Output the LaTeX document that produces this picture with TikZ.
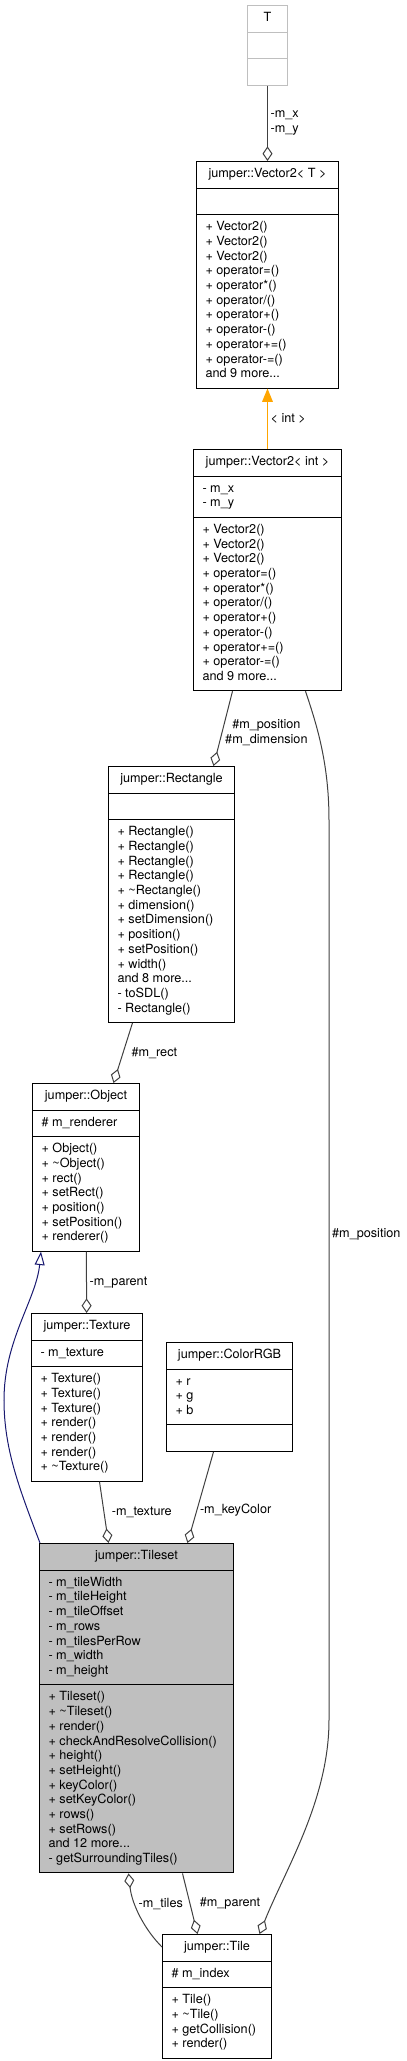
\documentclass[tikz,border=0pt]{standalone}
\usepackage{fontspec}
\setmainfont{TeX Gyre Heros}
\usepackage{tikz}
\usetikzlibrary{shapes.multipart,arrows.meta,positioning,calc}
\definecolor{edgegray}{HTML}{404040}
\definecolor{boxgray}{HTML}{BFBFBF}
\definecolor{tmplorange}{HTML}{FFA500}
\definecolor{inhblue}{HTML}{191970}
\newcommand{\cfont}{\fontsize{9.5}{11.025}\selectfont}

\begin{document}
\begin{tikzpicture}[
    x=0.75pt, y=-0.75pt,
    cls/.style={rectangle split, rectangle split parts=3, draw=black, line width=0.75pt,
        anchor=north west, align=left, font=\cfont, inner xsep=6.75pt, inner ysep=4.05pt,
        rectangle split part align={center,left,left}},
    tmplbox/.style={cls, draw=boxgray},
    curclass/.style={cls, fill=boxgray},
    lbl/.style={font=\cfont, align=left, inner sep=2pt},
    aggr/.style={draw=edgegray, line width=0.75pt, -{Diamond[open, length=11pt, width=7.5pt]}},
    tmpl/.style={draw=tmplorange, line width=0.75pt, -{Triangle[length=10pt, width=8pt]}},
    inherit/.style={draw=inhblue, line width=0.75pt, -{Triangle[open, length=10pt, width=7.5pt]}}
]
    \useasboundingbox (0,0) rectangle (407,2061);

    % Nodes
    \node[tmplbox, minimum width=30pt] (tpar) at (247,5) {\strut T\nodepart{two}\strut\nodepart{three}\strut};

    \node[cls, minimum width=106.5pt] (vect) at (196,161) {\strut jumper::Vector2< T >
        \nodepart{two}\strut
        \nodepart{three}\strut + Vector2()\\+ Vector2()\\+ Vector2()\\+ operator=()\\+ operator*()\\+ operator/()\\
        + operator+()\\+ operator-()\\+ operator+=()\\+ operator-=()\\and 9 more...\strut};

    \node[cls, minimum width=111pt] (vecint) at (193,449) {\strut jumper::Vector2< int >
        \nodepart{two}\strut - m\_x\\- m\_y\strut
        \nodepart{three}\strut + Vector2()\\+ Vector2()\\+ Vector2()\\+ operator=()\\+ operator*()\\+ operator/()\\
        + operator+()\\+ operator-()\\+ operator+=()\\+ operator-=()\\and 9 more...\strut};

    \node[cls, minimum width=94.5pt] (rect) at (108,766) {\strut jumper::Rectangle
        \nodepart{two}\strut
        \nodepart{three}\strut + Rectangle()\\+ Rectangle()\\+ Rectangle()\\+ Rectangle()\\+ \textasciitilde Rectangle()\\
        + dimension()\\+ setDimension()\\+ position()\\+ setPosition()\\+ width()\\and 8 more...\\- toSDL()\\- Rectangle()\strut};

    \node[cls, minimum width=80.25pt] (obj) at (32,1083) {\strut jumper::Object
        \nodepart{two}\strut \# m\_renderer
        \nodepart{three}\strut + Object()\\+ \textasciitilde Object()\\+ rect()\\+ setRect()\\+ position()\\+ setPosition()\\+ renderer()\strut};

    \node[cls, minimum width=83.25pt] (tex) at (31,1313) {\strut jumper::Texture
        \nodepart{two}\strut - m\_texture
        \nodepart{three}\strut + Texture()\\+ Texture()\\+ Texture()\\+ render()\\+ render()\\+ render()\\+ \textasciitilde Texture()\strut};

    \node[cls, minimum width=94.5pt] (color) at (166,1342) {\strut jumper::ColorRGB
        \nodepart{two}\strut + r\\+ g\\+ b\strut
        \nodepart{three}\strut};

    \node[curclass, minimum width=145.5pt] (tileset) at (39,1543) {\strut jumper::Tileset
        \nodepart{two}\strut - m\_tileWidth\\- m\_tileHeight\\- m\_tileOffset\\- m\_rows\\- m\_tilesPerRow\\- m\_width\\- m\_height\strut
        \nodepart{three}\strut + Tileset()\\+ \textasciitilde Tileset()\\+ render()\\+ checkAndResolveCollision()\\+ height()\\+ setHeight()\\
        + keyColor()\\+ setKeyColor()\\+ rows()\\+ setRows()\\and 12 more...\\- getSurroundingTiles()\strut};

    \node[cls, minimum width=81.75pt] (tile) at (162,1934) {\strut jumper::Tile
        \nodepart{two}\strut \# m\_index
        \nodepart{three}\strut + Tile()\\+ \textasciitilde Tile()\\+ getCollision()\\+ render()\strut};

    % Edges
    \draw[aggr] (tpar) -- node[lbl, right] (lblxy) {-m\_x\\-m\_y} (vect);
    \draw[tmpl] (vecint) -- node[lbl, right] (lblint) {< int >} (vect);
    \draw[aggr] ($(vecint.south)+(-35,0)$) -- node[lbl, align=center, right, pos=0.55] (lblposdim) {\#m\_position\\\#m\_dimension} ($(rect.north)+(42,0)$);
    \draw[aggr] ($(rect.south)+(-39,0)$) -- node[lbl, right=4pt, pos=0.5] (lblrect) {\#m\_rect} ($(obj.north)+(27.5,0)$);
    \draw[aggr] (obj) -- node[lbl, right] (lblobjpar) {-m\_parent} (tex);
    \draw[aggr] ($(tex.south)+(12.5,0)$) -- node[lbl, right=3.5pt] (lbltex) {-m\_texture} ($(tileset.north)+(-28,0)$);
    \draw[aggr] ($(color.south)+(-16,0)$) -- node[lbl, right, pos=0.64] (lblkey) {-m\_keyColor} ($(tileset.north)+(51,0)$);
    \draw[aggr] ($(tile.north west)+(0,13)$) .. controls (145,1930) and (132,1905) .. node[lbl, right, pos=0.65] (lbltiles) {-m\_tiles} ($(tileset.south)+(-8,0)$);
    \draw[aggr] ($(tileset.south)+(46,0)$) -- node[lbl, right=5pt] (lbltilepar) {\#m\_parent} ($(tile.north)+(-19.5,0)$);
    \draw[aggr] ($(vecint.south)+(38,0)$) .. controls (315,720) and (329,760) .. (329,820)
        -- node[lbl, right, pos=0.46] (lblpos) {\#m\_position} (329,1720)
        .. controls (329,1800) and (285,1870) .. ($(tile.north)+(42.5,0)$);

    % Inheritance
    \draw[inherit] ($(tileset.north west)+(1,0)$) .. controls (20,1490) and (4,1450) .. (4,1400)
        .. controls (4,1340) and (36,1300) .. ($(obj.south west)+(9,0)$);

\end{tikzpicture}
\end{document}
